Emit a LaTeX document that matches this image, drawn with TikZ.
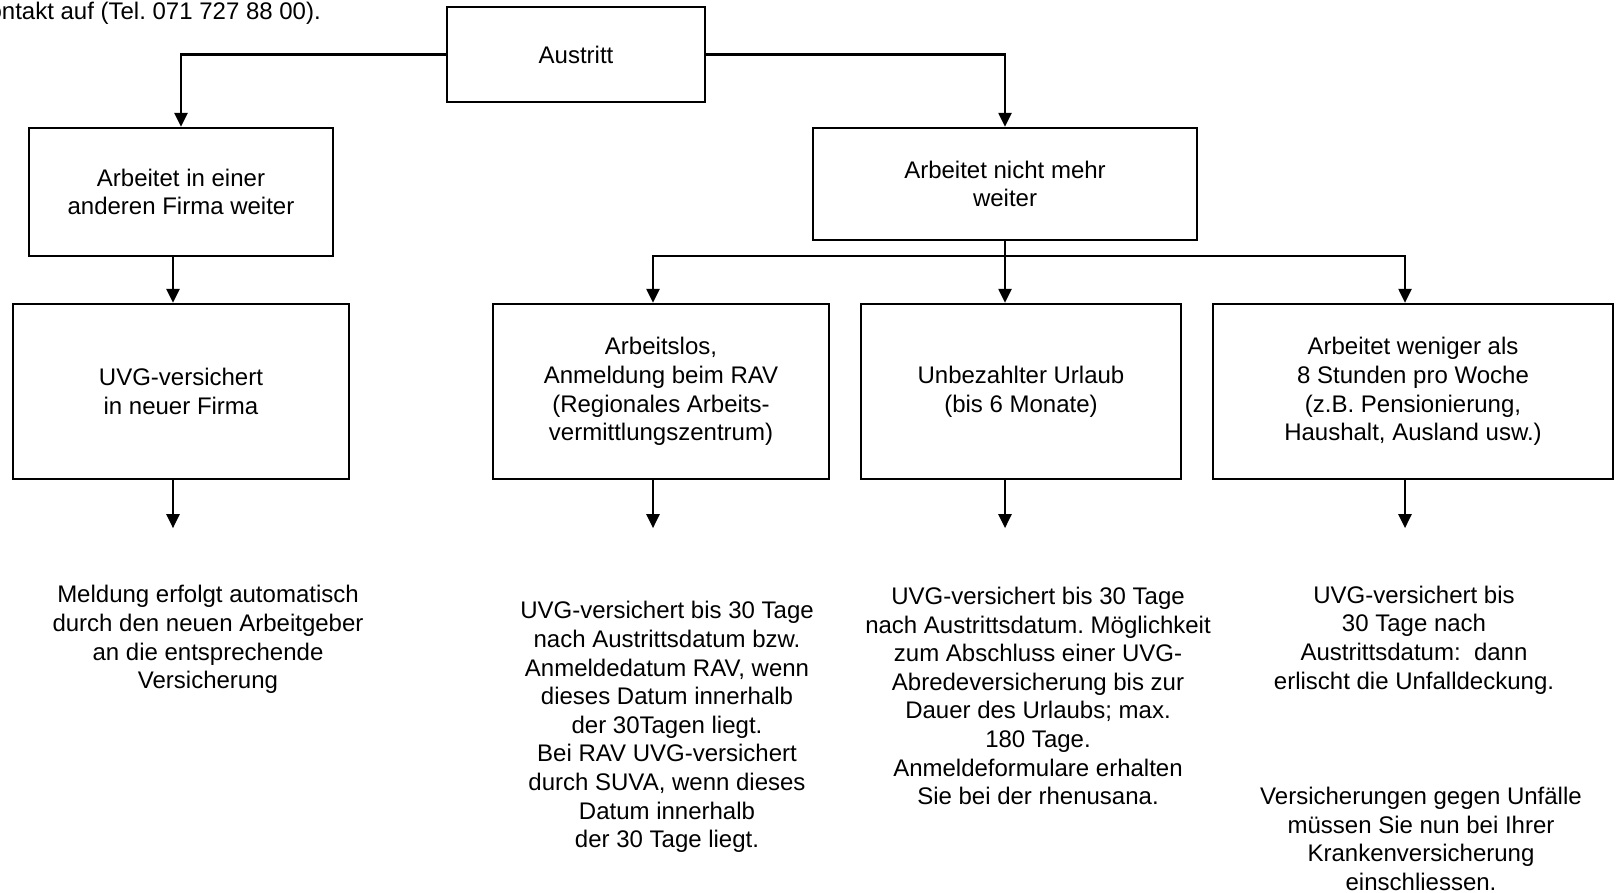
\documentclass[tikz,border=0pt]{standalone}
\usepackage{fontspec}
\setmainfont{Liberation Sans}
\usetikzlibrary{arrows.meta}
\frenchspacing

\tikzset{
  box/.style={draw, line width=2.3pt, align=center, inner sep=0pt},
  note/.style={align=center, inner sep=0pt},
  arr/.style={line width=2.3pt, -{Triangle[length=14pt,width=13pt]}}
}

\begin{document}
\begin{tikzpicture}[x=1pt, y=-1pt, font=\fontsize{24}{28.6}\selectfont]
            \useasboundingbox (0,0) rectangle (1616,892);

            \node (kontakt) [anchor=base east, inner sep=0pt] at (321,19) {ontakt auf (Tel. 071 727 88 00).};

            \node (austritt) at (576,54.5) [box, minimum width=258pt, minimum height=95pt] {Austritt};
            \node (firma) at (181,192) [box, minimum width=304pt, minimum height=128pt] {Arbeitet in einer\\anderen Firma weiter};
            \node (nicht) at (1005,184) [box, minimum width=384pt, minimum height=112pt] {Arbeitet nicht mehr\\weiter};

            \node (uvg) at (181,391.5) [box, minimum width=336pt, minimum height=175pt] {UVG-versichert\\in neuer Firma};
            \node (rav) at (661,391.5) [box, minimum width=336pt, minimum height=175pt] {Arbeitslos,\\Anmeldung beim RAV\\(Regionales Arbeits-\\vermittlungszentrum)};
            \node (urlaub) at (1021,391.5) [box, minimum width=320pt, minimum height=175pt] {Unbezahlter Urlaub\\(bis 6 Monate)};
            \node (weniger) at (1413,391.5) [box, minimum width=400pt, minimum height=175pt] {Arbeitet weniger als\\8 Stunden pro Woche\\(z.B. Pensionierung,\\Haushalt, Ausland usw.)};

            % oberste Ebene
            \draw [arr] (austritt.west) -| (firma.north);
            \draw [arr] (austritt.east) -| (nicht.north);
            \draw [arr] ([xshift=-8pt]firma.south) -- ([xshift=-8pt]uvg.north);

            \coordinate (split) at (1005,256);
            \draw [arr] (nicht.south) -- (nicht.south |- urlaub.north);
            \draw [arr] (split) -| ([xshift=-8pt]rav.north);
            \draw [arr] (split) -| ([xshift=-8pt]weniger.north);

            \foreach \n/\s in {uvg/-8, rav/-8, urlaub/-16, weniger/-8}
                {
                    \coordinate (\n-end) at ([xshift=\s pt, yshift=-48pt]\n.south);
                    \draw [arr] ([xshift=\s pt]\n.south) -- (\n-end);
                }

                \node (meldung) at (208,639.5) [note] {Meldung erfolgt automatisch\\durch den neuen Arbeitgeber\\an die entsprechende\\Versicherung};
                \node (ravtext) at (667,727) [note] {UVG-versichert bis 30 Tage\\nach Austrittsdatum bzw.\\Anmeldedatum RAV, wenn\\dieses Datum innerhalb\\der 30Tagen liegt.\\Bei RAV UVG-versichert\\durch SUVA, wenn dieses\\Datum innerhalb\\der 30 Tage liegt.};
                \node (urlaubtext) at (1038,696) [note] {UVG-versichert bis 30 Tage\\nach Austrittsdatum. M\"oglichkeit\\zum Abschluss einer UVG-\\Abredeversicherung bis zur\\Dauer des Urlaubs; max.\\180 Tage.\\Anmeldeformulare erhalten\\Sie bei der rhenusana.};
                \node (wenigertext) at (1414,640) [note] {UVG-versichert bis\\30 Tage nach\\Austrittsdatum:\ \ dann\\erlischt die Unfalldeckung.};
                \node (kasse) at (1421,839) [note] {Versicherungen gegen Unf\"alle\\m\"ussen Sie nun bei Ihrer\\Krankenversicherung\\einschliessen.};

        \end{tikzpicture}
\end{document}
